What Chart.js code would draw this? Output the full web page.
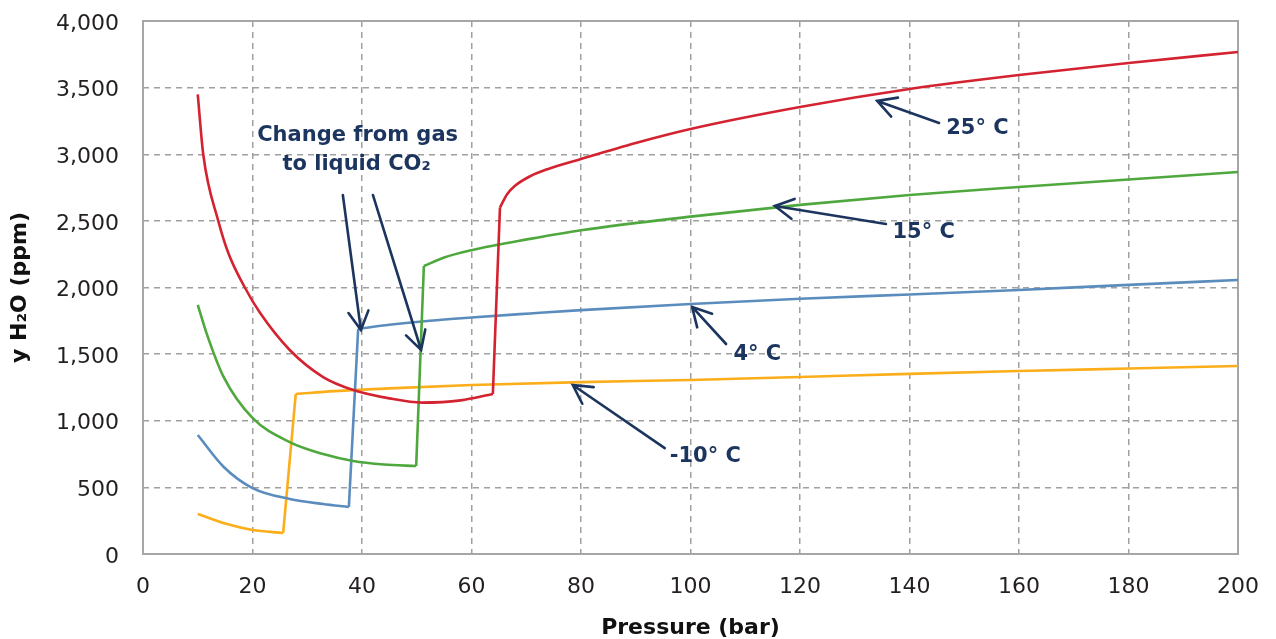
<!DOCTYPE html>
<html>
<head>
<meta charset="utf-8">
<script src="https://cdn.jsdelivr.net/npm/chart.js@4/dist/chart.umd.min.js"></script>
<style>
  html, body { margin: 0; padding: 0; background: #fff; }
  canvas { display: block; }
</style>
</head>
<body>
<canvas id="waterChart" width="1276" height="639"></canvas>
<script>
// pressure (bar) / y H2O (ppm), gas branch and liquid branch of each isotherm
var p25gas = [10, 11, 13.75, 15.6, 18.6, 21.4, 26.8, 32.9, 38.4, 45, 51, 58, 63.9];
var y25gas = [3450, 3000, 2500, 2257, 2000, 1808, 1531, 1328, 1231, 1168, 1136, 1153, 1201];
var p25liq = [65.2, 66.5, 68, 70.7, 74, 80, 90, 100, 120, 140, 160, 180, 200];
var y25liq = [2600, 2700, 2765, 2835, 2890, 2965, 3085, 3190, 3355, 3490, 3595, 3685, 3767];

var p15gas = [10, 11.6, 14.7, 20, 26.8, 32.9, 38.4, 44, 49.9];
var y15gas = [1870, 1658, 1331, 1021, 840, 750, 698, 672, 660];
var p15liq = [51.3, 55, 60, 70.7, 80, 100, 120, 140, 160, 180, 200];
var y15liq = [2161, 2225, 2280, 2365, 2430, 2532, 2620, 2694, 2754, 2810, 2867];

var p4gas = [10, 14.7, 20, 26.8, 32.9, 37.6];
var y4gas = [893, 655, 495, 413, 375, 353];
var p4liq = [39.3, 45, 52.4, 60, 70.7, 80, 100, 120, 140, 160, 180, 200];
var y4liq = [1689, 1720, 1751, 1775, 1805, 1830, 1876, 1915, 1948, 1981, 2020, 2056];

var pm10gas = [10, 15, 20, 25.6];
var ym10gas = [300, 228, 180, 158];
var pm10liq = [27.9, 35, 45, 60, 80, 100, 120, 140, 160, 180, 200];
var ym10liq = [1201, 1222, 1243, 1268, 1290, 1306, 1328, 1352, 1373, 1392, 1411];

var xTicks = [0, 20, 40, 60, 80, 100, 120, 140, 160, 180, 200];
var yTicks = [0, 500, 1000, 1500, 2000, 2500, 3000, 3500, 4000];

// annotation arrows, in data units: [tailP, tailY, tipP, tipY]
var arrows = [
  [36.5, 2694, 39.8, 1681],
  [42.0, 2694, 50.8, 1531],
  [145.4, 3235, 134.1, 3400],
  [135.7, 2477, 115.4, 2612],
  [106.5, 1576, 100.3, 1854],
  [95.3, 795, 78.5, 1268]
];
var labels = [
  ["25° C", 152.4, 3190],
  ["15° C", 142.6, 2409],
  ["4° C", 112.2, 1495],
  ["-10° C", 102.7, 728],
  ["Change from gas", 39.2, 3144],
  ["to liquid CO₂", 39.0, 2919]
];

var navy = "#1c355e";
var font = "'DejaVu Sans', sans-serif";

function pts(xs, ys) {
  return xs.map(function (x, i) { return { x: x, y: ys[i] }; });
}

function line(data, color, smooth) {
  return {
    data: data,
    borderColor: color,
    borderWidth: 2.6,
    pointRadius: 0,
    showLine: true,
    fill: false,
    tension: 0,
    cubicInterpolationMode: smooth ? "monotone" : "default"
  };
}

// each isotherm: gas curve, the vertical step, liquid curve
function isotherm(pg, yg, pl, yl, color) {
  var n = pg.length - 1;
  return [
    line(pts(pg, yg), color, true),
    line([{ x: pg[n], y: yg[n] }, { x: pl[0], y: yl[0] }], color, false),
    line(pts(pl, yl), color, true)
  ];
}

var frame = {
  id: "frame",
  beforeDatasetsDraw: function (chart) {
    var a = chart.chartArea, c = chart.ctx;
    c.save();
    c.strokeStyle = "#a6a6a6";
    c.lineWidth = 2;
    c.strokeRect(a.left, a.top, a.right - a.left, a.bottom - a.top);
    c.restore();
  }
};

var notes = {
  id: "notes",
  afterDatasetsDraw: function (chart) {
    var c = chart.ctx, sx = chart.scales.x, sy = chart.scales.y;
    c.save();
    c.strokeStyle = navy;
    c.fillStyle = navy;
    c.lineWidth = 2.6;
    c.lineCap = "round";
    arrows.forEach(function (ar) {
      var x1 = sx.getPixelForValue(ar[0]), y1 = sy.getPixelForValue(ar[1]);
      var x2 = sx.getPixelForValue(ar[2]), y2 = sy.getPixelForValue(ar[3]);
      var ang = Math.atan2(y2 - y1, x2 - x1), len = 21, spread = 0.5;
      c.beginPath();
      c.moveTo(x1, y1);
      c.lineTo(x2, y2);
      c.moveTo(x2 - len * Math.cos(ang - spread), y2 - len * Math.sin(ang - spread));
      c.lineTo(x2, y2);
      c.lineTo(x2 - len * Math.cos(ang + spread), y2 - len * Math.sin(ang + spread));
      c.stroke();
    });
    c.textAlign = "center";
    c.textBaseline = "middle";
    c.font = "bold 21px " + font;
    labels.forEach(function (lb) {
      c.fillText(lb[0], sx.getPixelForValue(lb[1]), sy.getPixelForValue(lb[2]));
    });
    c.restore();
  }
};

var ctx = document.getElementById("waterChart").getContext("2d");
var waterChart = new Chart(ctx, {
  type: "scatter",
  data: {
    datasets: []
      .concat(isotherm(p25gas, y25gas, p25liq, y25liq, "#d42330"))
      .concat(isotherm(p15gas, y15gas, p15liq, y15liq, "#4fa83d"))
      .concat(isotherm(p4gas, y4gas, p4liq, y4liq, "#5b8cbe"))
      .concat(isotherm(pm10gas, ym10gas, pm10liq, ym10liq, "#fbae1a"))
  },
  options: {
    responsive: false,
    animation: false,
    layout: { padding: { top: 21, right: 38, left: 0, bottom: 0 } },
    plugins: { legend: { display: false }, tooltip: { enabled: false } },
    scales: {
      x: {
        type: "linear",
        min: 0,
        max: 200,
        afterFit: function (axis) {
          axis.height = 85;
          axis.paddingLeft = 0;
          axis.paddingRight = 0;
        },
        afterBuildTicks: function (axis) { axis.ticks = xTicks.map(function (v) { return { value: v }; }); },
        grid: { color: "#a0a0a0", lineWidth: 1.5, drawTicks: false },
        border: { display: false, dash: [6, 5] },
        ticks: { padding: 20, color: "#231f20", font: { family: font, size: 22 } },
        title: {
          display: true,
          text: "Pressure (bar)",
          color: "#111",
          font: { family: font, size: 22, weight: "bold", lineHeight: 1 },
          padding: { top: 0, bottom: 0 }
        }
      },
      y: {
        min: 0,
        max: 4000,
        afterFit: function (axis) {
          axis.width = 143;
          axis.paddingTop = 0;
          axis.paddingBottom = 0;
        },
        afterBuildTicks: function (axis) { axis.ticks = yTicks.map(function (v) { return { value: v }; }); },
        grid: { color: "#a0a0a0", lineWidth: 1.5, drawTicks: false },
        border: { display: false, dash: [6, 5] },
        ticks: {
          padding: 24,
          labelOffset: 3,
          color: "#231f20",
          font: { family: font, size: 22 },
          callback: function (v) { return v.toLocaleString("en-US"); }
        },
        title: {
          display: true,
          text: "y H₂O (ppm)",
          color: "#111",
          font: { family: font, size: 22, weight: "bold" },
          padding: { top: 7, bottom: 0 }
        }
      }
    }
  },
  plugins: [frame, notes]
});
</script>
</body>
</html>
